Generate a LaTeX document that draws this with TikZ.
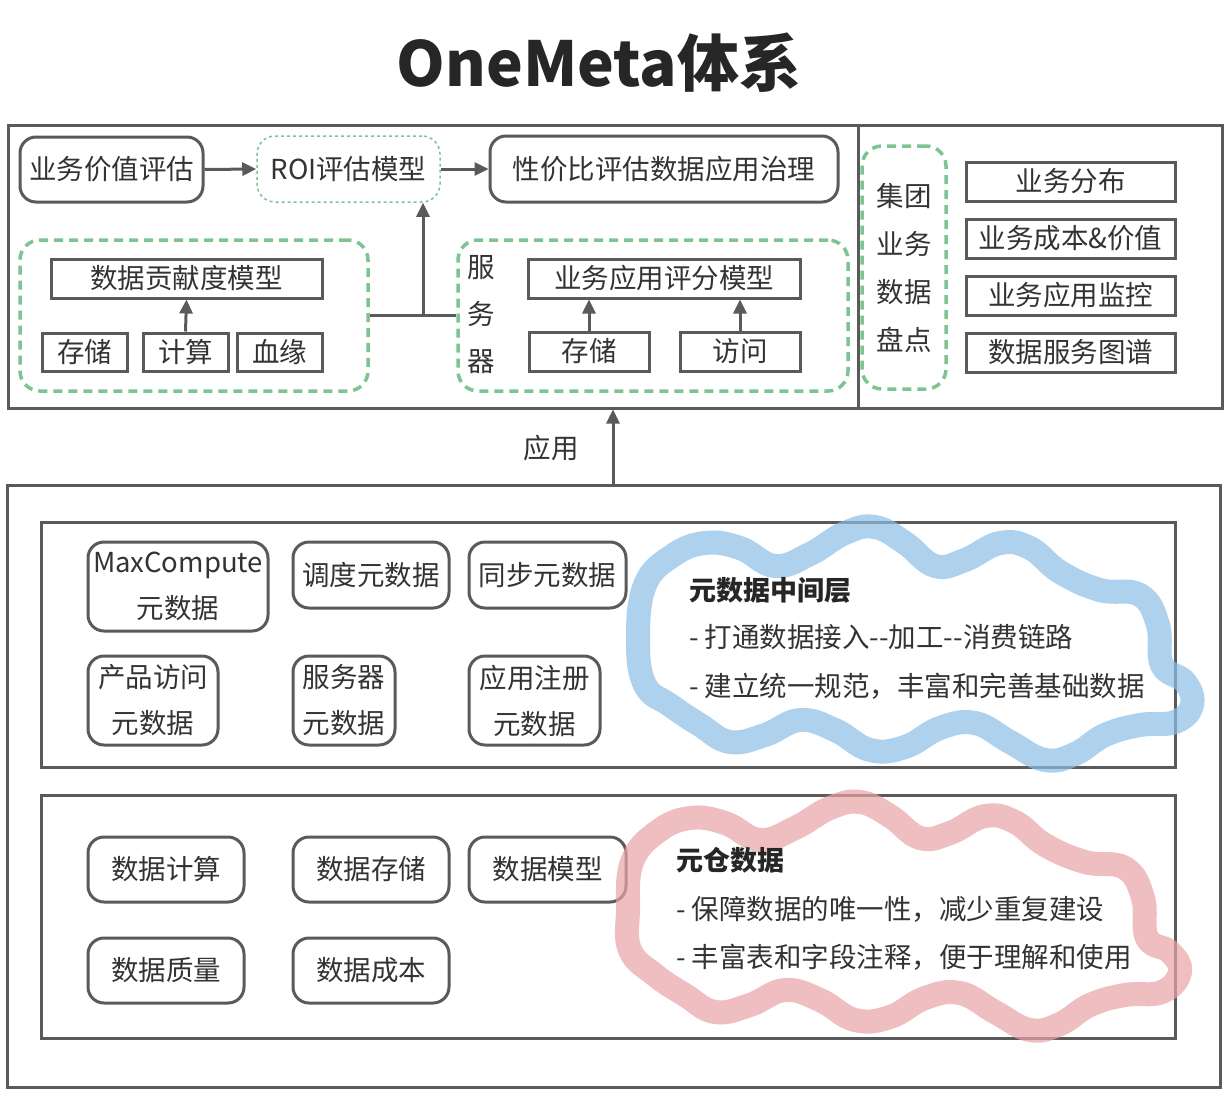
\documentclass[tikz,border=0pt]{standalone}
\usepackage{fontspec}
\setmainfont{Noto Sans CJK SC}
\usetikzlibrary{arrows.meta,calc}
\definecolor{gc}{HTML}{5A5A5A}
\definecolor{tc}{HTML}{333333}
\definecolor{gg}{HTML}{7CC492}
\definecolor{bluec}{HTML}{8DBFE8}
\definecolor{pinkc}{HTML}{E8A3A8}
\begin{document}
\begin{tikzpicture}[x=1pt,y=-1pt,
  every node/.style={font=\fontsize{27.5}{32}\selectfont, text=tc, inner sep=0pt},
  wh/.style 2 args={minimum width=#1, minimum height=#2},
  frame/.style={draw=gc, line width=3pt},
  rbox/.style={draw=gc, line width=3pt, rounded corners=16pt},
  sbox/.style={draw=gc, line width=3pt},
  gdash/.style={draw=gg, line width=3.5pt, dash pattern=on 9pt off 6pt, rounded corners=20pt},
  gdot/.style={draw=gg, line width=1.5pt, dash pattern=on 3pt off 3pt, rounded corners=18pt},
  arr/.style={draw=gc, line width=3pt, -{Triangle[length=14pt,width=13pt]}},
  conn/.style={draw=gc, line width=3pt},
  twoline/.style={align=center, font=\fontsize{27.5}{46}\selectfont},
  cloud/.style={line width=24pt, line join=round, line cap=round},
  ctext/.style={anchor=west, font=\fontsize{27.5}{32}\selectfont, text=tc},
]
\useasboundingbox[fill=white] (0,0) rectangle (1232,1093);

% title
\node[font=\fontsize{62}{72}\selectfont\bfseries, text=black!85] (title) at (599,63) {OneMeta体系};

% ===== top section =====
\node[frame, wh={850}{283}] (frameL) at (433,266.5) {};
\node[frame, wh={364}{283}] (frameR) at (1040,266.5) {};

\node[rbox, wh={183}{65}] (biz) at (111.5,169.5) {业务价值评估};
\node[gdot, wh={183}{66}] (roi) at (348.5,169) {ROI评估模型};
\node[rbox, wh={348}{66}] (xjb) at (664,169) {性价比评估数据应用治理};
\draw[arr] (biz.east) -- (roi.west);
\draw[arr] (roi.east) -- (xjb.west);

\node[gdash, wh={348}{151}] (grpL) at (194,315.5) {};
\node[sbox, wh={271}{39}] (contrib) at (186.5,278.5) {数据贡献度模型};
\node[sbox, wh={85}{38}] (s1) at (84.5,352) {存储};
\node[sbox, wh={85}{38}] (c1) at (185.5,352) {计算};
\node[sbox, wh={85}{38}] (l1) at (279.5,352) {血缘};
\draw[arr] (c1.north) -- (contrib.south);

\node[gdash, wh={390}{151}] (grpS) at (653,315.5) {};
\node[align=center, font=\fontsize{27.5}{47}\selectfont] (srvlbl) at (481,315) {服\\务\\器};
\node[sbox, wh={272}{39}] (score) at (664,278.5) {业务应用评分模型};
\node[sbox, wh={120}{39}] (s2) at (589,351.5) {存储};
\node[sbox, wh={120}{39}] (v2) at (740,351.5) {访问};
\draw[arr] (s2.north) -- (s2.north |- score.south);
\draw[arr] (v2.north) -- (v2.north |- score.south);

\coordinate (junc) at (423,316);
\draw[conn] (grpL.east) -- (grpS.west);
\draw[arr] (junc) -- (junc |- roi.south);

\node[gdash, wh={84}{243}, align=center, font=\fontsize{27.5}{48}\selectfont] (grpR) at (904,267.5) {集团\\业务\\数据\\盘点};
\node[sbox, wh={209}{39}] (r1) at (1070.5,181.5) {业务分布};
\node[sbox, wh={209}{39}] (r2) at (1070.5,238.5) {业务成本\&价值};
\node[sbox, wh={209}{39}] (r3) at (1070.5,295.5) {业务应用监控};
\node[sbox, wh={209}{39}] (r4) at (1070.5,352.5) {数据服务图谱};

% ===== link =====
\node (lblApp) at (551,448) {应用};
\coordinate (appx) at (613,448);

% ===== bottom section =====
\node[frame, wh={1213}{602}] (frameB) at (613.5,786) {};
\draw[arr] (frameB.north -| appx) -- (frameL.south -| appx);

\node[frame, wh={1134}{245}] (inner1) at (608,644.5) {};
\node[frame, wh={1134}{243}] (inner2) at (608,916.5) {};

\node[rbox, wh={180}{89}, twoline] (mc) at (178,586.5) {MaxCompute\\元数据};
\node[rbox, wh={156}{66}] (dd) at (371,575) {调度元数据};
\node[rbox, wh={157}{66}] (tb) at (547.5,575) {同步元数据};
\node[rbox, wh={130}{89}, twoline] (cp) at (153,700.5) {产品访问\\元数据};
\node[rbox, wh={102}{89}, twoline] (fw) at (344,700.5) {服务器\\元数据};
\node[rbox, wh={131}{89}, twoline] (yy) at (534.5,700.5) {应用注册\\元数据};

\node[rbox, wh={156}{65}] (js) at (166,869.5) {数据计算};
\node[rbox, wh={156}{65}] (cc) at (371,869.5) {数据存储};
\node[rbox, wh={157}{65}] (mx) at (547.5,869.5) {数据模型};
\node[rbox, wh={156}{65}] (zl) at (166,970.5) {数据质量};
\node[rbox, wh={156}{65}] (cb) at (371,970.5) {数据成本};

% clouds
\draw[cloud, draw=bluec, opacity=0.7] plot[smooth cycle, tension=0.7] coordinates {
 (645,585) (672,556) (705,543) (740,548) (775,566) (810,554) (845,533) (875,527)
 (905,543) (935,566) (965,560) (1000,543) (1030,548) (1060,572) (1100,590) (1140,595)
 (1158,625) (1162,665) (1185,682) (1192,705) (1175,722) (1140,725) (1105,735) (1075,754)
 (1045,760) (1010,742) (975,723) (940,728) (905,747) (870,750) (835,730) (800,720)
 (765,735) (730,742) (700,725) (670,705) (645,685) (638,640)};
\draw[cloud, draw=pinkc, opacity=0.7] plot[smooth cycle, tension=0.7] coordinates {
 (632,862) (657,832) (690,818) (725,823) (760,840) (795,828) (830,808) (860,802)
 (890,816) (920,838) (950,833) (985,816) (1015,822) (1045,845) (1085,862) (1125,868)
 (1143,898) (1147,938) (1170,952) (1180,972) (1162,992) (1125,995) (1090,1005) (1060,1024)
 (1030,1030) (995,1012) (960,993) (925,998) (890,1017) (855,1020) (820,1000) (785,990)
 (750,1005) (715,1012) (685,995) (655,975) (630,950) (628,910)};

\node[ctext, font=\fontsize{27}{32}\selectfont\bfseries, text=black!85] (mh) at (689,590) {元数据中间层};
\node[ctext] (m1) at (689,637) {- 打通数据接入-\kern0pt-加工-\kern0pt-消费链路};
\node[ctext] (m2) at (689,686) {- 建立统一规范，丰富和完善基础数据};

\node[ctext, font=\fontsize{27}{32}\selectfont\bfseries, text=black!85] (wh) at (676,860) {元仓数据};
\node[ctext] (w1) at (676,909) {- 保障数据的唯一性，减少重复建设};
\node[ctext] (w2) at (676,957) {- 丰富表和字段注释，便于理解和使用};
\end{tikzpicture}
\end{document}
